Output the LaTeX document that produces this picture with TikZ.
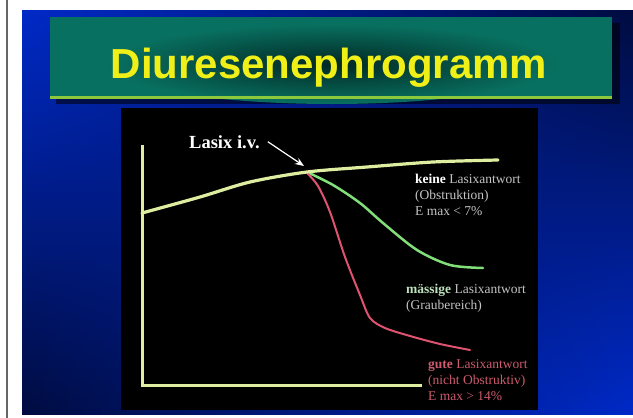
\documentclass[tikz,border=0pt]{standalone}
\usepackage{fontspec}
\setmainfont{Liberation Serif}
\newfontfamily\headfont{Liberation Sans}
\usetikzlibrary{arrows.meta,fadings}
\definecolor{slideblue}{RGB}{0,42,200}
\definecolor{slidenavy}{RGB}{0,12,64}
\definecolor{titleteal}{RGB}{8,112,96}
\definecolor{titleglow}{RGB}{2,40,36}
\definecolor{titleyellow}{RGB}{240,240,24}
\definecolor{rulegreen}{RGB}{140,200,60}
\definecolor{axisyellow}{RGB}{222,238,160}
\definecolor{curvegreen}{RGB}{130,222,120}
\definecolor{curvered}{RGB}{222,84,112}
\definecolor{labelgray}{RGB}{196,196,196}
\definecolor{labelgreen}{RGB}{190,225,190}
\definecolor{labelred}{RGB}{205,90,110}
\tikzfading[name=fade to east, left color=transparent!100, right color=transparent!0]

\begin{document}
\begin{tikzpicture}[x=1pt,y=-1pt,
		curveline/.style={line width=3pt,line cap=round,line join=round},
		curvelabel/.style={anchor=north west,inner sep=0pt,align=left,font=\fontsize{13.5}{16}\selectfont},
		titletext/.style={anchor=base,font=\fontsize{42}{48}\selectfont\headfont\bfseries}]
		\fill[white] (0,0) rectangle (633,418);
		\useasboundingbox (0,0) rectangle (633,418);
		\fill[gray!80!black] (6,0) rectangle (8,418);
		\shade[top color=slideblue,bottom color=slidenavy] (22,10) rectangle (633,414);
		\shade[top color=slidenavy,bottom color=slideblue,path fading=fade to east] (22,10) rectangle (633,414);
		\fill[black,opacity=0.55] (56,23) rectangle (620,104);
		\fill[titleteal] (50,17) rectangle (612,97);
		\shade[inner color=titleglow,outer color=titleteal] (332,64) ellipse (225 and 40);
		\fill[rulegreen] (50,96) rectangle (612,99);
		\node (title)[titletext,text=titleyellow] at (329,78) {Diuresenephrogramm};
		\fill[black] (121,108) rectangle (538,410);
		\draw[axisyellow,curveline,line join=miter,line cap=butt] (142,145) -- (142,385) -- (422,385);
		\draw[curvegreen,curveline,line width=2.5pt] plot[smooth] coordinates {(307,172) (333,185) (360,203) (383,223) (417,250) (450,265) (483,268)};
		\draw[curvered,curveline,line width=2pt] plot[smooth] coordinates {(307,173) (318,186) (330,212) (345,257) (360,295) (370,318) (385,328) (410,336) (440,344) (470,350)};
		\draw[axisyellow,curveline,line width=3.2pt] plot[smooth] coordinates {(142,213) (200,197) (250,182) (307,172) (367,167) (433,162) (498,160)};
		\node (lasix)[anchor=base west,inner sep=0pt,text=white,font=\bfseries\fontsize{18.5}{22}\selectfont] at (189,148) {Lasix i.v.};
		\coordinate (inject) at (304,166);
		\draw[white,line width=1.2pt,-{Stealth[length=9pt,width=7pt]}] ([xshift=8pt]lasix.east) -- (inject);
		\node (keine)[curvelabel,text=labelgray] at (415,174) {\textcolor{white}{\bfseries keine} Lasixantwort\\(Obstruktion)\\E max < 7\%};
		\node (maessige)[curvelabel,text=labelgray] at (406,284) {\textcolor{labelgreen}{\bfseries mässige} Lasixantwort\\(Graubereich)};
		\node (gute)[curvelabel,text=labelred] at (428,359) {{\bfseries gute} Lasixantwort\\(nicht Obstruktiv)\\E max > 14\%};
	\end{tikzpicture}
\end{document}
